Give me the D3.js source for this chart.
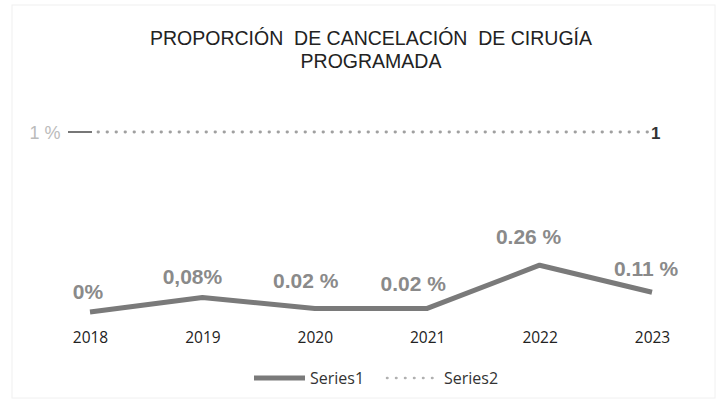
<!DOCTYPE html>
<html>
<head>
<meta charset="utf-8">
<script src="https://cdn.jsdelivr.net/npm/d3@7"></script>
<style>
  body { margin: 0; background: #fff; }
  svg { display: block; }
</style>
</head>
<body>
<div id="chart"></div>
<script>
var years = ["2018", "2019", "2020", "2021", "2022", "2023"];
var series1 = [0, 0.08, 0.02, 0.02, 0.26, 0.11];
var series2 = [1, 1, 1, 1, 1, 1];
var labels1 = ["0%", "0,08%", "0.02 %", "0.02 %", "0.26 %", "0.11 %"];
var titleLines = ["PROPORCIÓN  DE CANCELACIÓN  DE CIRUGÍA", "PROGRAMADA"];

var width = 717, height = 401;

var svg = d3.select("#chart").append("svg")
    .attr("width", width)
    .attr("height", height);

// faint scan frame
svg.append("rect")
    .attr("x", 12).attr("y", 5)
    .attr("width", width - 14).attr("height", height - 8)
    .attr("fill", "none")
    .attr("stroke", "#f0f0f0");

var x = d3.scalePoint().domain(years).range([90, 652]);
var y = d3.scaleLinear().domain([0, 1]).range([312, 132]);

// title
svg.append("g").selectAll("text").data(titleLines).enter()
    .append("text")
    .attr("x", 371)
    .attr("y", function (d, i) { return 45 + i * 23; })
    .attr("text-anchor", "middle")
    .attr("font-family", "Liberation Sans, Arial, sans-serif")
    .attr("font-size", 19.5)
    .attr("fill", "#222")
    .style("white-space", "pre")
    .text(function (d) { return d; });

// y label "1 %" with its short dash
svg.append("text")
    .attr("x", 45).attr("y", y(1) + 7)
    .attr("text-anchor", "middle")
    .attr("font-family", "Liberation Sans, Arial, sans-serif")
    .attr("font-size", 18)
    .attr("fill", "#bbbbbb")
    .text("1 %");
svg.append("line")
    .attr("x1", 68).attr("x2", 92)
    .attr("y1", y(1)).attr("y2", y(1))
    .attr("stroke", "#555").attr("stroke-width", 1.6);

// series2 dotted
var line = d3.line()
    .x(function (d, i) { return x(years[i]); })
    .y(function (d) { return y(d); });

svg.append("path")
    .datum(series2)
    .attr("d", d3.line()
        .x(function (d, i) { return i === 0 ? x(years[i]) + 8 : x(years[i]) - 4; })
        .y(function (d) { return y(d); }))
    .attr("fill", "none")
    .attr("stroke", "#a0a0a0")
    .attr("stroke-width", 2.8)
    .attr("stroke-linecap", "round")
    .attr("stroke-dasharray", "0.5,8.5");

svg.append("text")
    .attr("x", x(years[5]) - 1).attr("y", y(1) + 7)
    .attr("font-family", "Liberation Sans, Arial, sans-serif")
    .attr("font-size", 17)
    .attr("font-weight", "bold")
    .attr("fill", "#333")
    .text(String(series2[5]));

// series1 line
svg.append("path")
    .datum(series1)
    .attr("d", line)
    .attr("fill", "none")
    .attr("stroke", "#7a7a7a")
    .attr("stroke-width", 5)
    .attr("stroke-linejoin", "round");

// data labels
var labelDx = [-2, -10, -9, -14, -11, -6];
var labelDy = [-13, -14, -20, -17, -21, -16];
svg.append("g").selectAll("text").data(series1).enter()
    .append("text")
    .attr("x", function (d, i) { return x(years[i]) + labelDx[i]; })
    .attr("y", function (d, i) { return y(d) + labelDy[i]; })
    .attr("text-anchor", "middle")
    .attr("font-family", "Liberation Sans, Arial, sans-serif")
    .attr("font-size", 21)
    .attr("font-weight", "bold")
    .attr("fill", "#8a8a8a")
    .text(function (d, i) { return labels1[i]; });

// x axis labels
var xAxis = d3.axisBottom(x).tickSize(0).tickPadding(0);
var gx = svg.append("g")
    .attr("transform", "translate(0,332)")
    .call(xAxis);
gx.select(".domain").remove();
gx.selectAll("text")
    .attr("font-family", "Open Sans, sans-serif")
    .attr("font-size", 15.5)
    .attr("fill", "#222");

// legend
var lg = svg.append("g").attr("transform", "translate(0,378)");
lg.append("line")
    .attr("x1", 254).attr("x2", 305)
    .attr("stroke", "#7a7a7a").attr("stroke-width", 5);
lg.append("text")
    .attr("x", 310).attr("y", 6)
    .attr("font-family", "Open Sans, sans-serif")
    .attr("font-size", 16)
    .attr("fill", "#333")
    .text("Series1");
lg.append("line")
    .attr("x1", 387).attr("x2", 433)
    .attr("stroke", "#b0b0b0").attr("stroke-width", 2.5)
    .attr("stroke-linecap", "round")
    .attr("stroke-dasharray", "0.5,8.5");
lg.append("text")
    .attr("x", 444).attr("y", 6)
    .attr("font-family", "Open Sans, sans-serif")
    .attr("font-size", 16)
    .attr("fill", "#333")
    .text("Series2");
</script>
</body>
</html>
